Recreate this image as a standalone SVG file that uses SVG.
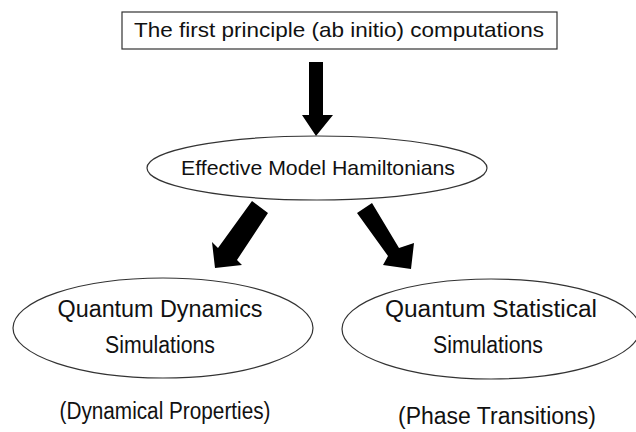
<svg xmlns="http://www.w3.org/2000/svg" width="636" height="432" viewBox="0 0 636 432">
<style>
.t{font-family:"Liberation Sans","DejaVu Sans",sans-serif;font-size:23px;fill:#111;text-anchor:middle}
.s{fill:#fff;stroke:#333;stroke-width:1.2}
.a{fill:#000}
</style>
<rect width="636" height="432" fill="#fff"/>
<g id="connectors">
<polygon class="a" points="309,62 323,62 323,115 333,115 316,136 302,115 309,115"/>
<polygon class="a" points="252,201 268,213 237,260 242,265 215,268 212,242 218,248"/>
<polygon class="a" points="357,213 372,203 399,248 414,243 411,269 383,265 388,256"/>
</g>
<g id="top">
<rect class="s" x="122" y="12" width="435" height="37"/>
<text class="t" x="339" y="37" style="font-size:21px" textLength="410" lengthAdjust="spacingAndGlyphs">The first principle (ab initio) computations</text>
</g>
<g id="hamiltonians">
<ellipse class="s" cx="317" cy="168" rx="170" ry="32"/>
<text class="t" x="318" y="175" style="font-size:21px" textLength="274" lengthAdjust="spacingAndGlyphs">Effective Model Hamiltonians</text>
</g>
<g id="dynamics">
<ellipse class="s" cx="163" cy="328" rx="150" ry="50"/>
<text class="t" x="160" y="317" textLength="205" lengthAdjust="spacingAndGlyphs">Quantum Dynamics</text>
<text class="t" x="160" y="353" textLength="110" lengthAdjust="spacingAndGlyphs">Simulations</text>
</g>
<g id="statistical">
<ellipse class="s" cx="491" cy="329" rx="149" ry="50"/>
<text class="t" x="491" y="317" textLength="212" lengthAdjust="spacingAndGlyphs">Quantum Statistical</text>
<text class="t" x="488" y="353" textLength="110" lengthAdjust="spacingAndGlyphs">Simulations</text>
</g>
<g id="label-dyn">
<text class="t" x="165" y="419" textLength="211" lengthAdjust="spacingAndGlyphs">(Dynamical Properties)</text>
</g>
<g id="label-phase">
<text class="t" x="497" y="424" textLength="198" lengthAdjust="spacingAndGlyphs">(Phase Transitions)</text>
</g>
</svg>
